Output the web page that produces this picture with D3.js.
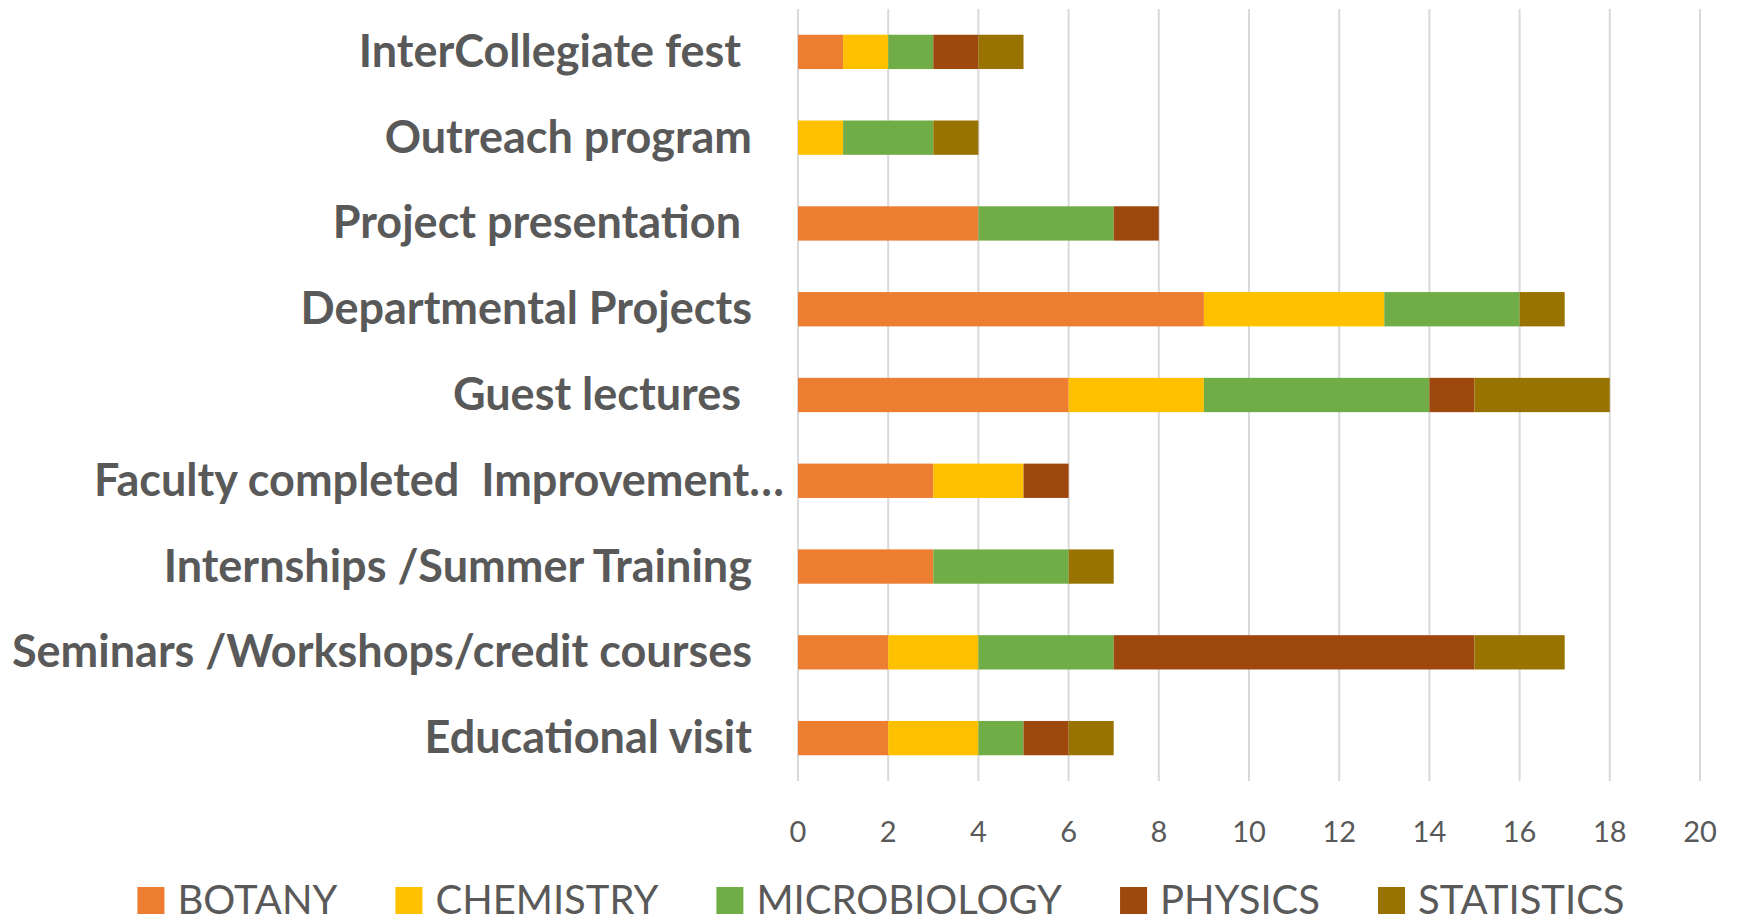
<!DOCTYPE html>
<html>
<head>
<meta charset="utf-8">
<script src="https://cdn.jsdelivr.net/npm/d3@7"></script>
<style>
    body { margin: 0; background: #fff; }
    svg text { font-family: Lato, "Open Sans", sans-serif; fill: #595959; white-space: pre; }
</style>
</head>
<body>
<div id="chart"></div>
<script>
// categories, top to bottom as they appear
const categories = [
    "InterCollegiate fest ",
    "Outreach program",
    "Project presentation ",
    "Departmental Projects",
    "Guest lectures ",
    "Faculty completed  Improvement\u2026",
    "Internships /Summer Training",
    "Seminars /Workshops/credit courses",
    "Educational visit"
];

const seriesNames = ["BOTANY", "CHEMISTRY", "MICROBIOLOGY", "PHYSICS", "STATISTICS"];
const seriesColors = ["#ED7D31", "#FFC000", "#70AD47", "#9E480E", "#997300"];

// values per series, same order as categories
const botany       = [1, 0, 4, 9, 6, 3, 3, 2, 2];
const chemistry    = [1, 1, 0, 4, 3, 2, 0, 2, 2];
const microbiology = [1, 2, 3, 3, 5, 0, 3, 3, 1];
const physics      = [1, 0, 1, 0, 1, 1, 0, 8, 1];
const statistics   = [1, 1, 0, 1, 3, 0, 1, 2, 1];

const xTicks = [0, 2, 4, 6, 8, 10, 12, 14, 16, 18, 20];

let rows = categories.map((c, i) => ({
    category: c,
    BOTANY: botany[i],
    CHEMISTRY: chemistry[i],
    MICROBIOLOGY: microbiology[i],
    PHYSICS: physics[i],
    STATISTICS: statistics[i]
}));

let width = 1737, height = 923;
let margin = {top: 9, left: 798, right: 37, bottom: 142};

let svg = d3.select("#chart").append("svg")
    .attr("width", width)
    .attr("height", height);

let x = d3.scaleLinear()
    .domain([0, 20])
    .range([margin.left, width - margin.right]);

let y = d3.scaleBand()
    .domain(categories)
    .range([margin.top, height - margin.bottom])
    .paddingInner(0.6)
    .paddingOuter(0.3);

let color = d3.scaleOrdinal().domain(seriesNames).range(seriesColors);

// gridlines
svg.append("g")
    .selectAll("line")
    .data(xTicks)
    .enter()
    .append("line")
    .attr("x1", d => x(d))
    .attr("x2", d => x(d))
    .attr("y1", margin.top)
    .attr("y2", height - margin.bottom)
    .attr("stroke", "#d9d9d9")
    .attr("stroke-width", 2);

// tick labels
svg.append("g")
    .selectAll("text")
    .data(xTicks)
    .enter()
    .append("text")
    .attr("x", d => x(d))
    .attr("y", 842)
    .attr("text-anchor", "middle")
    .style("font-size", "29px")
    .text(d => d);

// stacked bars
let stack = d3.stack().keys(seriesNames);
let layers = stack(rows);

svg.append("g")
    .selectAll("g")
    .data(layers)
    .enter()
    .append("g")
    .attr("fill", d => color(d.key))
    .selectAll("rect")
    .data(d => d.filter(s => s[1] > s[0]))
    .enter()
    .append("rect")
    .attr("x", d => x(d[0]))
    .attr("y", d => y(d.data.category))
    .attr("width", d => x(d[1]) - x(d[0]))
    .attr("height", y.bandwidth());

// category labels
svg.append("g")
    .selectAll("text")
    .data(categories)
    .enter()
    .append("text")
    .attr("x", d => d.endsWith("\u2026") ? 784 : 752)
    .attr("y", d => y(d) + y.bandwidth() / 2 + 15)
    .attr("text-anchor", "end")
    .style("font-size", "45px")
    .style("font-weight", "bold")
    .text(d => d);

// legend
let legend = svg.append("g");
let item = legend.selectAll("g")
    .data(seriesNames)
    .enter()
    .append("g");

item.append("rect")
    .attr("width", 27)
    .attr("height", 27)
    .attr("y", 887)
    .attr("fill", d => color(d));

item.append("text")
    .attr("x", 40)
    .attr("y", 914)
    .style("font-size", "40px")
    .text(d => d);

let gap = 58;
let pos = 0;
item.each(function() {
    let w = 40 + this.querySelector("text").getComputedTextLength();
    d3.select(this).attr("transform", `translate(${pos},0)`);
    pos += w + gap;
});
let legendWidth = pos - gap;
legend.attr("transform", `translate(${881 - legendWidth / 2},0)`);
</script>
</body>
</html>
